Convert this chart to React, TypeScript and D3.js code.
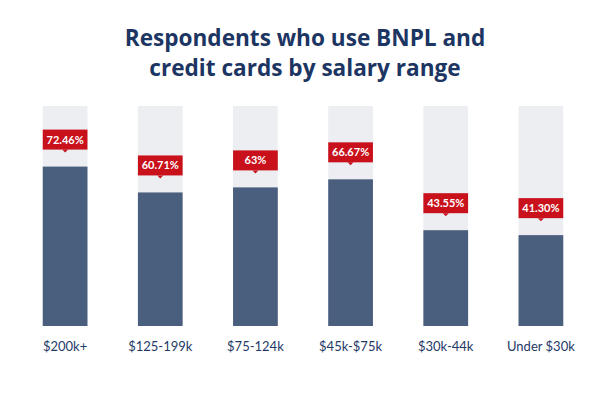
import * as d3 from 'd3';
import { useEffect, useRef } from 'react';

const categories = ['$200k+', '$125-199k', '$75-124k', '$45k-$75k', '$30k-44k', 'Under $30k'];
const values = [72.46, 60.71, 63, 66.67, 43.55, 41.3];
const valueLabels = ['72.46%', '60.71%', '63%', '66.67%', '43.55%', '41.30%'];
const titleLines = ['Respondents who use BNPL and', 'credit cards by salary range'];

const W = 608;
const H = 408;

const App = () => {
    const ref = useRef<SVGSVGElement | null>(null);

    useEffect(() => {
        if (!ref.current) return;
        const svg = d3.select(ref.current);
        svg.selectAll('*').remove();

        const margin = { top: 106, bottom: 82, left: 18, right: 20 };
        const x = d3.scaleBand<string>()
            .domain(categories)
            .range([margin.left, W - margin.right])
            .paddingInner(0.53)
            .paddingOuter(0.26);
        const y = d3.scaleLinear()
            .domain([0, 100])
            .range([H - margin.bottom, margin.top]);

        // title
        svg.append('g')
            .selectAll('text')
            .data(titleLines)
            .join('text')
            .attr('x', W / 2 + 1)
            .attr('y', (_, i) => 46 + i * 29.5)
            .attr('text-anchor', 'middle')
            .attr('font-family', '"Open Sans", sans-serif')
            .attr('font-weight', 700)
            .attr('font-size', 22.6)
            .attr('fill', '#1c3562')
            .text(d => d);

        const g = svg.append('g');
        const rows = categories.map((c, i) => ({ c, v: values[i], label: valueLabels[i] }));

        // background tracks
        g.selectAll('rect.track')
            .data(rows)
            .join('rect')
            .attr('class', 'track')
            .attr('x', d => x(d.c)!)
            .attr('width', x.bandwidth())
            .attr('y', y(100))
            .attr('height', y(0) - y(100))
            .attr('fill', '#eceef1');

        // bars
        g.selectAll('rect.bar')
            .data(rows)
            .join('rect')
            .attr('class', 'bar')
            .attr('x', d => x(d.c)!)
            .attr('width', x.bandwidth())
            .attr('y', d => y(d.v))
            .attr('height', d => y(0) - y(d.v))
            .attr('fill', '#4a5e7e');

        // value callouts
        const boxH = 20;
        const gap = 17;
        const callout = g.selectAll('g.callout')
            .data(rows)
            .join('g')
            .attr('class', 'callout')
            .attr('transform', d => `translate(${x(d.c)!},${y(d.v) - gap - boxH})`);

        callout.append('rect')
            .attr('width', x.bandwidth())
            .attr('height', boxH)
            .attr('fill', '#c8111b');

        callout.append('path')
            .attr('d', () => {
                const cx = x.bandwidth() / 2;
                return `M${cx - 3},${boxH} L${cx},${boxH + 3} L${cx + 3},${boxH} Z`;
            })
            .attr('fill', '#c8111b');

        callout.append('text')
            .attr('x', x.bandwidth() / 2)
            .attr('y', boxH / 2 + 4)
            .attr('text-anchor', 'middle')
            .attr('font-family', 'Lato, sans-serif')
            .attr('font-weight', 700)
            .attr('font-size', 11)
            .attr('fill', '#ffffff')
            .text(d => d.label);

        // category axis labels
        g.selectAll('text.cat')
            .data(rows)
            .join('text')
            .attr('class', 'cat')
            .attr('x', d => x(d.c)! + x.bandwidth() / 2)
            .attr('y', y(0) + 25)
            .attr('text-anchor', 'middle')
            .attr('font-family', 'Lato, sans-serif')
            .attr('font-size', 13)
            .attr('fill', '#1f3a68')
            .text(d => d.c);
    }, []);

    return (
        <svg
            ref={ref}
            width={W}
            height={H}
            style={{ position: 'absolute', left: 0, top: 0, background: '#ffffff' }}
        />
    );
};

export default App;
